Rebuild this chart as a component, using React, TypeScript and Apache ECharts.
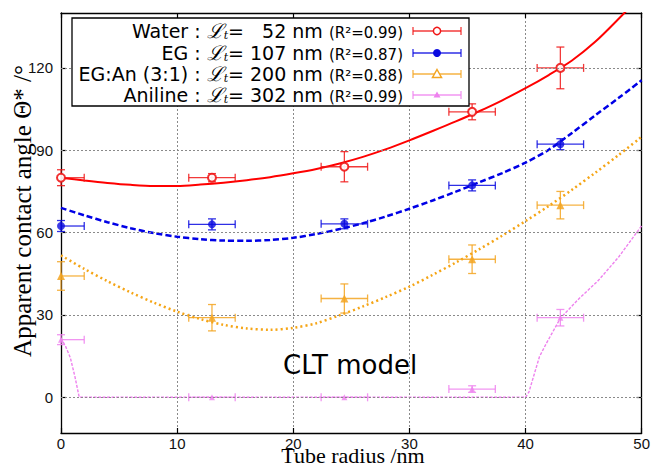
import React, { useEffect, useRef } from 'react';
import * as echarts from 'echarts';

// ---- measured data ----
const radii = [0, 13, 24.4, 35.4, 43];
const radiusErr = [2, 2, 2, 2, 2];

const waterAngles = [80, 80, 84, 104, 120];
const waterErr = [2.9, 1.5, 5.5, 2.9, 7.6];
const egAngles = [62.4, 63, 63.2, 77.2, 92.2];
const egErr = [2, 2, 1.8, 2, 2];
const egAnAngles = [44.2, 29, 36, 50.3, 70];
const egAnErr = [5.2, 4.8, 5.3, 5.2, 5];
const anilineAngles = [21, 0, 0, 3, 29];
const anilineErr = [1.8, 0, 0, 1.2, 3];

// CLT model fits
const fitRadius = [0, 2, 4, 6, 8, 10, 12, 14, 16, 18, 20, 22, 24, 26, 28, 30, 32, 34, 36, 38, 40, 42, 44, 46, 48, 50];
const waterFit = [80, 79, 78.1, 77.4, 77, 77, 77.5, 78.2, 79.1, 80.2, 81.6, 83.2, 85.2, 87.6, 90.4, 93.6, 97, 100.5, 104.2, 108.2, 112.6, 117.4, 122.7, 129.5, 137.8, 146.5];
const egFit = [69, 66.3, 63.8, 61.6, 59.8, 58.5, 57.6, 57.1, 57, 57.3, 58.1, 59.5, 61.3, 63.4, 65.9, 68.7, 71.7, 74.9, 78.3, 81.7, 85.5, 90.2, 96.3, 102.7, 109, 115.5];
const egAnFit = [51.7, 46.8, 42.3, 38.2, 34.5, 31.2, 28.5, 26.4, 25.1, 24.6, 25.3, 27, 29.9, 33.1, 36.6, 40.3, 44.6, 49.1, 53.9, 58.9, 64.2, 69.7, 75.6, 81.8, 88.2, 94.9];
const anilineFitRadius = [0, 0.4, 0.8, 1.2, 1.57, 10, 20, 30, 40, 40.3, 40.6, 41.2, 41.8, 43, 44.5, 46.3, 48, 50];
const anilineFit = [21.5, 18.5, 14.5, 7.5, 0, 0, 0, 0, 0, 2, 6.3, 14.8, 19.7, 28.8, 35.5, 42.7, 51, 62.5];

const yTicks = [0, 30, 60, 90, 120];

const legendNames = ['Water', 'EG', 'EG:An (3:1)', 'Aniline'];
const legendLengths = ['  52', '107', '200', '302'];
const legendR2 = ['0.99', '0.87', '0.88', '0.99'];

const RED = '#f01818';
const BLUE = '#0a0ae0';
const ORANGE = '#f3a521';
const VIOLET = '#ee82ee';

function pairs(xs: number[], ys: number[]) {
  return xs.map((x, i) => [x, ys[i]]);
}

function errorBars(name: string, ys: number[], ye: number[], color: string) {
  const data = radii.map((x, i) => [x, ys[i], radiusErr[i], ye[i]]);
  return {
    type: 'custom',
    name,
    data,
    z: 3,
    silent: true,
    encode: { x: 0, y: 1 },
    renderItem: (params: any, api: any) => {
      const x = api.value(0);
      const y = api.value(1);
      const dx = api.value(2);
      const dy = api.value(3);
      const cs = params.coordSys;
      const left = cs.x;
      const right = cs.x + cs.width;
      const c = api.coord([x, y]);
      const l = api.coord([x - dx, y]);
      const r = api.coord([x + dx, y]);
      const cap = 4;
      const style = { stroke: color, lineWidth: 1.3, opacity: 0.85 };
      const children: any[] = [];
      const lx = Math.max(l[0], left);
      const rx = Math.min(r[0], right);
      children.push({ type: 'line', shape: { x1: lx, y1: c[1], x2: rx, y2: c[1] }, style });
      if (l[0] >= left - 0.5) children.push({ type: 'line', shape: { x1: l[0], y1: c[1] - cap, x2: l[0], y2: c[1] + cap }, style });
      if (r[0] <= right + 0.5) children.push({ type: 'line', shape: { x1: r[0], y1: c[1] - cap, x2: r[0], y2: c[1] + cap }, style });
      if (dy > 0) {
        const t = api.coord([x, y + dy]);
        const b = api.coord([x, y - dy]);
        children.push({ type: 'line', shape: { x1: c[0], y1: t[1], x2: c[0], y2: b[1] }, style });
        children.push({ type: 'line', shape: { x1: c[0] - cap, y1: t[1], x2: c[0] + cap, y2: t[1] }, style });
        children.push({ type: 'line', shape: { x1: c[0] - cap, y1: b[1], x2: c[0] + cap, y2: b[1] }, style });
      }
      return { type: 'group', children };
    },
  };
}

function legendGraphics() {
  const rowsY = [31, 53, 74, 95];
  const colors = [RED, BLUE, ORANGE, VIOLET];
  const els: any[] = [
    { type: 'rect', shape: { x: 72, y: 18, width: 397, height: 88 }, style: { fill: '#fff', stroke: '#000', lineWidth: 1.3 }, z: 10 },
  ];
  rowsY.forEach((ry, i) => {
    els.push({
      type: 'text',
      x: 403,
      y: ry,
      z: 11,
      style: {
        text: `{a|${legendNames[i]} : }{L|ℒ}{t|t}{a|= ${legendLengths[i]} nm }{s|(R²=${legendR2[i]})}`,
        align: 'right',
        verticalAlign: 'middle',
        rich: {
          a: { fontFamily: 'DejaVu Sans', fontSize: 19, lineHeight: 19, verticalAlign: 'bottom', fill: '#000' },
          L: { fontFamily: 'DejaVu Serif', fontStyle: 'italic', fontSize: 20, lineHeight: 19, verticalAlign: 'bottom', fill: '#000' },
          t: { fontFamily: 'DejaVu Serif', fontStyle: 'italic', fontSize: 11, lineHeight: 6.5, verticalAlign: 'bottom', fill: '#000' },
          s: { fontFamily: 'DejaVu Sans', fontSize: 15, lineHeight: 16.6, verticalAlign: 'bottom', fill: '#000' },
        },
      },
    });
    const col = colors[i];
    const st = { stroke: col, lineWidth: 1.3, opacity: 0.85 };
    els.push({ type: 'line', z: 11, shape: { x1: 413, y1: ry, x2: 461, y2: ry }, style: st });
    els.push({ type: 'line', z: 11, shape: { x1: 413, y1: ry - 4, x2: 413, y2: ry + 4 }, style: st });
    els.push({ type: 'line', z: 11, shape: { x1: 461, y1: ry - 4, x2: 461, y2: ry + 4 }, style: st });
    if (i === 0) els.push({ type: 'circle', z: 12, shape: { cx: 437, cy: ry, r: 3.6 }, style: { fill: '#fff', stroke: col, lineWidth: 1.5 } });
    if (i === 1) els.push({ type: 'circle', z: 12, shape: { cx: 437, cy: ry, r: 4 }, style: { fill: col } });
    if (i === 2) els.push({ type: 'polygon', z: 12, shape: { points: [[437, ry - 4.5], [441.5, ry + 3.5], [432.5, ry + 3.5]] }, style: { fill: '#fff', stroke: col, lineWidth: 1.5 } });
    if (i === 3) els.push({ type: 'polygon', z: 12, shape: { points: [[437, ry - 3.5], [440.5, ry + 2.5], [433.5, ry + 2.5]] }, style: { fill: col } });
  });
  return els;
}

export default function App() {
  const ref = useRef<HTMLDivElement>(null);
  useEffect(() => {
    document.body.style.margin = '0';
    const chart = echarts.init(ref.current!, null, { renderer: 'svg' });
    const axisLine = { show: true, onZero: false, lineStyle: { color: '#000', width: 1.3 } };
    const tick = { show: true, inside: true, length: 5, lineStyle: { color: '#000', width: 1.2 } };
    const grid = { color: '#8a8a8a', width: 1, type: [2, 2] as any };
    const labelFont = { fontFamily: 'Liberation Sans', fontSize: 15, color: '#111', lineHeight: 13 };
    chart.setOption({
      animation: false,
      backgroundColor: '#fff',
      grid: { left: 61, right: 9, top: 13, bottom: 31, containLabel: false },
      xAxis: [
        {
          type: 'value', min: 0, max: 50, interval: 10, position: 'bottom',
          axisLine, axisTick: tick,
          axisLabel: { ...labelFont, margin: 4 },
          splitLine: { show: true, lineStyle: grid },
        },
        {
          type: 'value', min: 0, max: 50, interval: 10, position: 'top',
          axisLine, axisTick: tick, axisLabel: { show: false }, splitLine: { show: false },
        },
      ],
      yAxis: [
        {
          type: 'value', min: -13, max: 140, position: 'left',
          axisLine, axisTick: { ...tick, customValues: yTicks },
          axisLabel: { ...labelFont, margin: 8, customValues: yTicks },
          splitLine: { show: false },
        },
        {
          type: 'value', min: -13, max: 140, position: 'right',
          axisLine, axisTick: { ...tick, customValues: yTicks },
          axisLabel: { show: false }, splitLine: { show: false },
        },
      ],
      series: [
        {
          type: 'line', data: [], silent: true, z: 1,
          markLine: {
            silent: true, symbol: ['none', 'none'], label: { show: false },
            lineStyle: grid,
            data: yTicks.map((v) => ({ yAxis: v })),
          },
        },
        { type: 'line', name: 'waterFit', data: pairs(fitRadius, waterFit), showSymbol: false, smooth: 0.3, z: 2, lineStyle: { color: '#ff0000', width: 2 } },
        { type: 'line', name: 'egFit', data: pairs(fitRadius, egFit), showSymbol: false, smooth: 0.3, z: 2, lineStyle: { color: '#0000e6', width: 2.5, type: [6, 3] } },
        { type: 'line', name: 'egAnFit', data: pairs(fitRadius, egAnFit), showSymbol: false, smooth: 0.3, z: 2, lineStyle: { color: '#f5a516', width: 2.5, type: [2, 3] } },
        { type: 'line', name: 'anilineFit', data: pairs(anilineFitRadius, anilineFit), showSymbol: false, smooth: false, z: 2, lineStyle: { color: VIOLET, width: 1.4, type: [3, 1.5] } },
        errorBars('waterErr', waterAngles, waterErr, RED),
        errorBars('egErr', egAngles, egErr, BLUE),
        errorBars('egAnErr', egAnAngles, egAnErr, ORANGE),
        errorBars('anilineErr', anilineAngles, anilineErr, VIOLET),
        { type: 'scatter', name: 'Water', data: pairs(radii, waterAngles), symbol: 'emptyCircle', symbolSize: 8, z: 4, itemStyle: { color: RED, borderColor: RED, borderWidth: 1.4, opacity: 0.9 } },
        { type: 'scatter', name: 'EG', data: pairs(radii, egAngles), symbol: 'circle', symbolSize: 8, z: 4, itemStyle: { color: BLUE } },
        { type: 'scatter', name: 'EG:An', data: pairs(radii, egAnAngles), symbol: 'triangle', symbolSize: 8, z: 4, itemStyle: { color: ORANGE, opacity: 0.85 } },
        { type: 'scatter', name: 'Aniline', data: pairs(radii, anilineAngles), symbol: 'triangle', symbolSize: 6, z: 4, itemStyle: { color: VIOLET } },
      ],
      graphic: [
        ...legendGraphics(),
        {
          type: 'text', x: 283, y: 365, z: 5,
          style: { text: 'CLT model', fontFamily: 'DejaVu Sans', fontSize: 26, fill: '#000', align: 'left', verticalAlign: 'middle' },
        },
        {
          type: 'text', x: 22, y: 211, rotation: Math.PI / 2, z: 5,
          style: { text: 'Apparent contact angle Θ* /°', fontFamily: 'Liberation Serif', fontSize: 25, fill: '#000', align: 'center', verticalAlign: 'middle' },
        },
        {
          type: 'text', x: 353, y: 455, z: 5,
          style: { text: 'Tube radius /nm', fontFamily: 'Liberation Serif', fontSize: 22, lineHeight: 16, fill: '#000', align: 'center', verticalAlign: 'middle' },
        },
      ],
    });
    return () => chart.dispose();
  }, []);
  return <div ref={ref} style={{ width: 653, height: 464 }} />;
}
